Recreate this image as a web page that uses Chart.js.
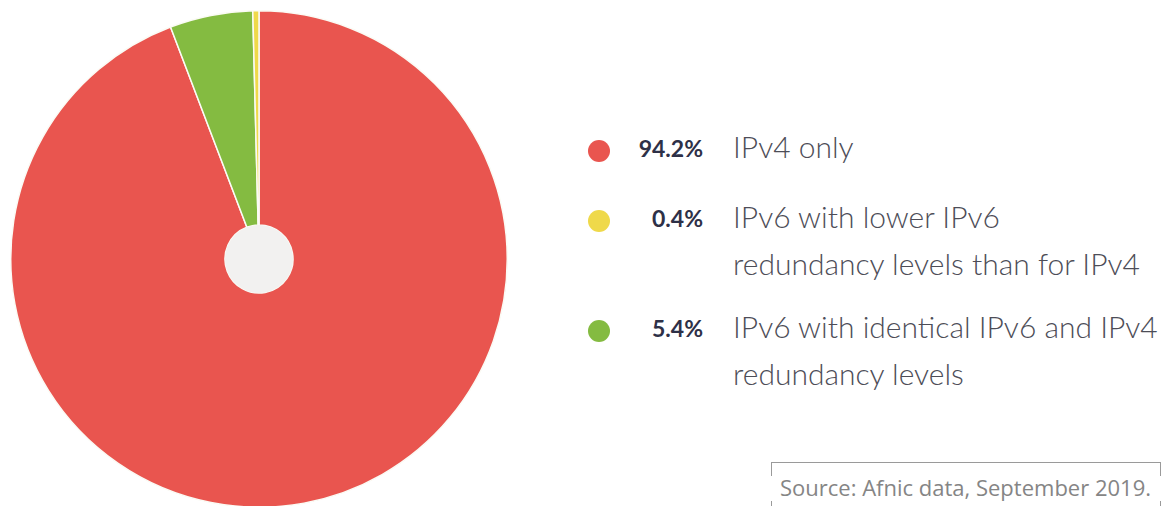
<!DOCTYPE html>
<html>
<head>
<meta charset="utf-8">
<script src="https://cdn.jsdelivr.net/npm/chart.js@4/dist/chart.umd.min.js"></script>
<style>
  html,body{margin:0;padding:0;background:#fff;width:1173px;height:506px;overflow:hidden;position:relative;}
  #wrap{position:absolute;left:10px;top:10px;width:498px;height:498px;}
  .leg{position:absolute;left:586px;font-family:Lato,"Open Sans",sans-serif;}
  .row{position:absolute;left:0;width:600px;}
  .dot{position:absolute;left:2px;width:22px;height:22px;border-radius:50%;}
  .pct{position:absolute;right:483px;font-weight:700;font-size:23px;color:#2e3047;white-space:nowrap;}
  .lab{position:absolute;left:147px;font-weight:300;font-size:30px;line-height:47px;color:#4d4d57;white-space:nowrap;}
  #src{position:absolute;left:771px;top:462px;width:388px;height:60px;border:1px solid #9a9a9a;border-bottom:none;}
  #mask{position:absolute;left:764px;top:476px;width:404px;height:25px;background:#fff;}
  #srct{position:absolute;left:780px;top:472px;font-family:"Open Sans",Lato,sans-serif;font-size:22px;color:#858585;white-space:nowrap;}
</style>
</head>
<body>
<div id="wrap"><canvas id="c"></canvas></div>
<div class="leg" id="legend"></div>
<div id="src"></div>
<div id="mask"></div>
<div id="srct">Source: Afnic data, September 2019.</div>
<script>
// Pie order (clockwise from top)
const categories = ["IPv4 only", "IPv6 with identical IPv6 and IPv4 redundancy levels", "IPv6 with lower IPv6 redundancy levels than for IPv4"];
const values = [94.2, 5.4, 0.4];
const colors = ["#e9554f", "#84bb41", "#efd94a"];
// Legend order and wrapped label lines
const legendOrder = [0, 2, 1];
const legendLines = [["IPv4 only"], ["IPv6 with lower IPv6", "redundancy levels than for IPv4"], ["IPv6 with identical IPv6 and IPv4", "redundancy levels"]];
const legendPct = ["94.2%", "0.4%", "5.4%"];
const legendTop = [125, 195, 305];

const holePlugin = {
  id: 'hole',
  afterDatasetsDraw(chart) {
    const arc = chart.getDatasetMeta(0).data[0];
    if (!arc) return;
    const ctx = chart.ctx;
    ctx.save();
    ctx.beginPath();
    ctx.arc(arc.x, arc.y, arc.innerRadius, 0, Math.PI * 2);
    ctx.fillStyle = '#f2f1f0';
    ctx.fill();
    ctx.restore();
  }
};

new Chart(document.getElementById('c'), {
  type: 'doughnut',
  data: {
    labels: categories,
    datasets: [{
      data: values,
      backgroundColor: colors,
      borderColor: '#fbfbf5',
      borderWidth: 1.5
    }]
  },
  options: {
    responsive: true,
    maintainAspectRatio: false,
    animation: false,
    cutout: 34,
    layout: {padding: 0},
    plugins: {legend: {display: false}, tooltip: {enabled: false}}
  },
  plugins: [holePlugin]
});

const leg = document.getElementById('legend');
legendOrder.forEach((idx, i) => {
  const row = document.createElement('div');
  row.className = 'row';
  row.style.top = legendTop[i] + 'px';
  const dot = document.createElement('div');
  dot.className = 'dot';
  dot.style.background = colors[idx];
  dot.style.top = '15px';
  const pct = document.createElement('div');
  pct.className = 'pct';
  pct.style.top = '9px';
  pct.textContent = legendPct[i];
  const lab = document.createElement('div');
  lab.className = 'lab';
  lab.style.top = '-2px';
  lab.innerHTML = legendLines[i].join('<br>');
  row.appendChild(dot); row.appendChild(pct); row.appendChild(lab);
  leg.appendChild(row);
});
</script>
</body>
</html>
